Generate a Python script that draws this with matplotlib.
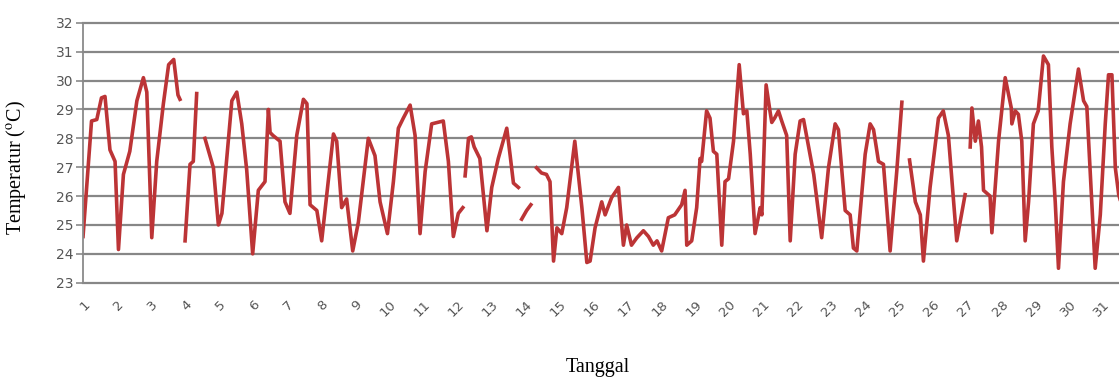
import matplotlib as mpl
mpl.use('Agg')
import matplotlib.pyplot as plt
import numpy as np

nan = np.nan

# hourly air temperature, traced turning points (hours since day 1 00:00), nan = missing record
hours = [0, 6, 9.7, 13, 15.5, 19, 22.6, 25, 28.5, 33, 38, 42.6, 45, 48.5, 52, 56.7, 60.4, 64, 67, 68.4, nan,
         72, 75.5, 77.8, 80.2, nan,
         86, 92, 95.5, 98, 105, 108.5, 112, 115.5, 119.7, 123.7, 128.4, 130.8, 132, 134, 139, 142.5, 146,
         150.8, 155.5, 158, 160.2, 165, 168.4, 173, 176.7, 179, 182.5, 186, 190.3, 194.3, 201.3, 206, 209.6,
         214.8, 219, 222.5, 226, 230.8, 234.3, 237.8, 241.4, 246, 254.2, 257.8, 261.3, 264.8, 268, nan,
         269.6, 272, 274, 276, 280, 285, 288.4, 293, 299, 301.4, 303.7, 307.2, nan,
         309.5, 313, 316, nan,
         320, 323.5, 327, 329.5, 332, 334.4, 337.8, 341.3, 347, 352, 355.5, 357.8, 361.3, 366, 368.4, 373,
         377.8, 381.3, 383.6, 387, 390.7, 395.4, 399, 402.4, 405, 408.3, 413, 417.5, 422.4, 424.8, 426, 429.5,
         433, 435.4, 436.5, 440, 442.4, 444.8, 447.2, 450.7, 453, 455.5, 459, 463, 466, 468.4, 470.8, 474.2,
         477.8, 479, 482, 484.7, 486, 488, 490.7, 493, 496.5, 499, 502.5, 506, 508.4, 512, 515.6, 521.2, 526,
         530.7, 533, 537.8, 541.3, 543.6, 546, 551.9, 555.4, 557.8, 561.3, 564.8, 569.5, 574.2, 577.8, nan,
         583.2, 587.3, 590.8, 593, 597.7, 603.6, 607, 610.6, 616.5, 622.4, nan,
         626, 627.2, 629.6, 631.8, 634, 635.4, 640, 641.3, 646, 650.7, 655, 655.4, 657.8, 660, 662.4, 664.8,
         667.2, 670.6, 674, 677.7, 681.2, 683.6, 686, 688.3, 691.8, 696.5, 702.4, 706, 708.3, 714.2, 717.8,
         721.3, 723.6, 726, 728.4, 730.8, 734]
temps = [24.6, 28.6, 28.65, 29.4, 29.45, 27.6, 27.2, 24.15, 26.75, 27.55, 29.3, 30.1, 29.6, 24.56, 27.2, 29.2,
         30.55, 30.73, 29.5, 29.35, nan,
         24.45, 27.1, 27.2, 29.55, nan,
         28.0, 26.98, 25.0, 25.4, 29.3, 29.6, 28.5, 26.9, 24.0, 26.2, 26.5, 29.0, 28.2, 28.1, 27.9, 25.8, 25.4,
         28.1, 29.35, 29.2, 25.7, 25.5, 24.45, 26.5, 28.15, 27.9, 25.6, 25.9, 24.1, 25.1, 28.0, 27.4, 25.8,
         24.7, 26.5, 28.35, 28.7, 29.15, 28.1, 24.7, 26.85, 28.5, 28.6, 27.2, 24.6, 25.4, 25.6, nan,
         26.7, 28.0, 28.05, 27.7, 27.3, 24.8, 26.3, 27.3, 28.35, 27.4, 26.45, 26.3, nan,
         25.2, 25.5, 25.7, nan,
         26.98, 26.8, 26.75, 26.5, 23.75, 24.9, 24.7, 25.6, 27.9, 25.6, 23.7, 23.75, 24.9, 25.8, 25.35, 25.95,
         26.3, 24.3, 25.0, 24.3, 24.55, 24.8, 24.6, 24.3, 24.45, 24.1, 25.25, 25.35, 25.7, 26.2, 24.3, 24.45,
         25.6, 27.3, 27.2, 28.95, 28.7, 27.55, 27.45, 24.3, 26.5, 26.6, 27.9, 30.55, 28.85, 28.95, 27.45, 24.7,
         25.6, 25.35, 29.85, 28.95, 28.55, 28.7, 28.95, 28.6, 28.1, 24.45, 27.45, 28.6, 28.65, 27.7, 26.75,
         24.56, 26.98, 28.5, 28.3, 25.5, 25.35, 24.2, 24.1, 27.45, 28.5, 28.3, 27.2, 27.1, 24.1, 26.87, 29.25, nan,
         27.25, 25.8, 25.35, 23.75, 26.3, 28.7, 28.95, 28.1, 24.45, 26.05, nan,
         27.7, 29.05, 27.9, 28.6, 27.7, 26.2, 26.0, 24.73, 27.9, 30.1, 29.05, 28.5, 28.95, 28.83, 27.9, 24.45,
         25.8, 28.5, 28.95, 30.85, 30.55, 27.7, 25.8, 23.5, 26.5, 28.5, 30.4, 29.3, 29.1, 23.5, 25.35,
         28.5, 30.2, 30.2, 26.98, 26.05, 25.5]
days = list(range(1, 32))
y_ticks = list(range(23, 33))

fig = plt.figure(figsize=(11.19, 3.8), dpi=100)
ax = fig.add_axes([0.0742, 0.256, 1 - 0.0742, 0.684])

ax.plot(hours, temps, color='#BC3436', lw=2.6, solid_joinstyle='round')

ax.set_xlim(0, 731)
ax.set_ylim(23, 32)
ax.set_yticks(y_ticks)
ax.set_xticks([24 * (d - 1) for d in days])
ax.set_xticklabels([str(d) for d in days], rotation=45, ha='right',
                   rotation_mode='anchor', fontsize=9.5, color='#555555')
ax.tick_params(axis='x', length=0, pad=11)
ax.tick_params(axis='y', length=5, width=1.2, color='#8a8a8a', pad=2,
               labelsize=10, labelcolor='#555555')

ax.grid(axis='y', color='#878787', lw=1.6)
for line in ax.get_ygridlines():
    line.set_clip_on(False)
ax.set_axisbelow(True)
for side in ['top', 'right', 'bottom']:
    ax.spines[side].set_visible(False)
ax.spines['left'].set_color('#8a8a8a')
ax.spines['left'].set_linewidth(1.3)

serif = {'family': 'Liberation Serif', 'size': 14.5}
plt.rcParams['mathtext.fontset'] = 'stix'
fig.text(0.014, 0.56, r'Temperatur ($^{\rm o}$C)', rotation=90, ha='center', va='center', **serif)
fig.text(0.534, 0.032, 'Tanggal', ha='center', va='center', **serif)

plt.savefig('out.png', dpi=100)
